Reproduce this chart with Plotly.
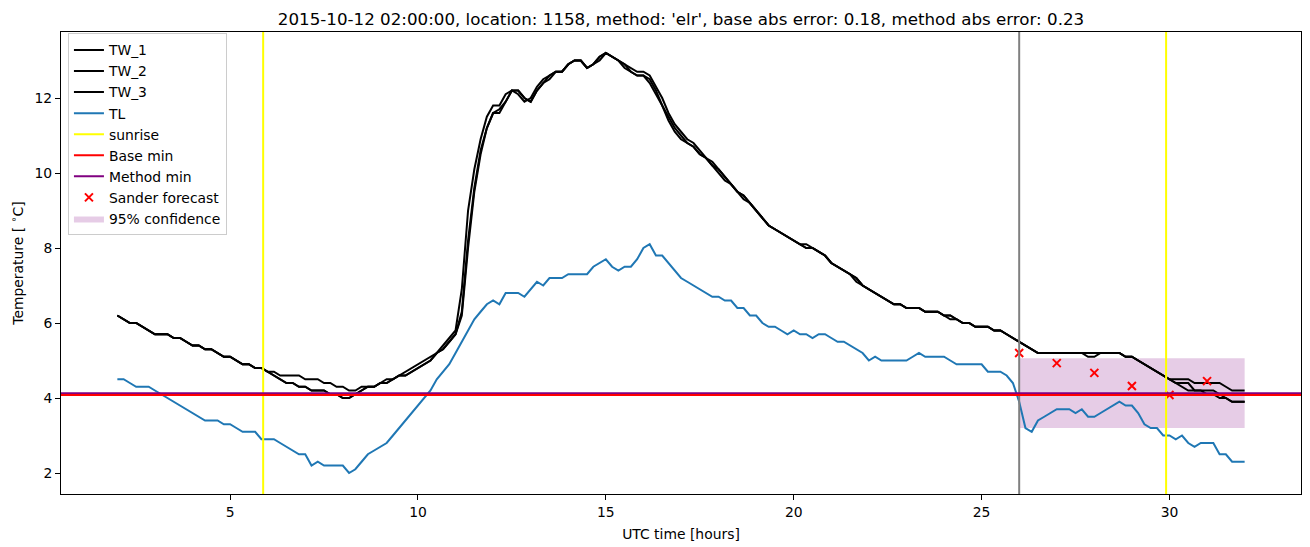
import numpy as np
import plotly.graph_objects as go

# time axis: 10-minute samples from 02:00 (hour 2) to hour 32
hours = np.round(2 + np.arange(181) / 6, 4)

TW_1 = [
    6.2, 6.1, 6.0, 6.0, 5.9, 5.8,
    5.7, 5.7, 5.7, 5.6, 5.6, 5.5,
    5.4, 5.4, 5.3, 5.3, 5.2, 5.1,
    5.1, 5.0, 4.9, 4.9, 4.8, 4.8,
    4.7, 4.7, 4.6, 4.6, 4.6, 4.6,
    4.5, 4.5, 4.5, 4.4, 4.4, 4.3,
    4.3, 4.2, 4.2, 4.3, 4.3, 4.3,
    4.4, 4.5, 4.5, 4.6, 4.7, 4.8,
    4.9, 5.0, 5.1, 5.2, 5.4, 5.6,
    5.8, 6.9, 9.0, 10.1, 10.9, 11.5,
    11.8, 11.8, 12.1, 12.2, 12.1, 11.9,
    12.0, 12.3, 12.5, 12.6, 12.7, 12.7,
    12.9, 13.0, 13.0, 12.8, 12.9, 13.1,
    13.2, 13.1, 13.0, 12.9, 12.8, 12.7,
    12.7, 12.6, 12.3, 12.0, 11.6, 11.3,
    11.1, 10.9, 10.8, 10.6, 10.4, 10.3,
    10.1, 9.9, 9.7, 9.5, 9.4, 9.2,
    9.0, 8.8, 8.6, 8.5, 8.4, 8.3,
    8.2, 8.1, 8.1, 8.0, 7.9, 7.8,
    7.6, 7.5, 7.4, 7.3, 7.2, 7.0,
    6.9, 6.8, 6.7, 6.6, 6.5, 6.5,
    6.4, 6.4, 6.4, 6.3, 6.3, 6.3,
    6.2, 6.2, 6.1, 6.0, 6.0, 5.9,
    5.9, 5.9, 5.8, 5.8, 5.7, 5.6,
    5.5, 5.4, 5.3, 5.2, 5.2, 5.2,
    5.2, 5.2, 5.2, 5.2, 5.2, 5.2,
    5.2, 5.2, 5.2, 5.2, 5.2, 5.1,
    5.1, 5.0, 4.9, 4.8, 4.7, 4.6,
    4.5, 4.5, 4.5, 4.5, 4.4, 4.4,
    4.4, 4.4, 4.4, 4.3, 4.2, 4.2,
    4.2,
]

TW_2 = [
    6.2, 6.1, 6.0, 6.0, 5.9, 5.8,
    5.7, 5.7, 5.7, 5.6, 5.6, 5.5,
    5.4, 5.4, 5.3, 5.3, 5.2, 5.1,
    5.1, 5.0, 4.9, 4.9, 4.8, 4.8,
    4.7, 4.6, 4.5, 4.4, 4.4, 4.3,
    4.3, 4.2, 4.2, 4.2, 4.1, 4.1,
    4.0, 4.0, 4.1, 4.2, 4.3, 4.3,
    4.4, 4.4, 4.5, 4.6, 4.6, 4.7,
    4.8, 4.9, 5.0, 5.2, 5.3, 5.5,
    5.7, 6.3, 8.2, 9.6, 10.6, 11.2,
    11.6, 11.6, 11.9, 12.2, 12.2, 12.0,
    11.9, 12.2, 12.4, 12.5, 12.7, 12.7,
    12.9, 13.0, 13.0, 12.8, 12.9, 13.0,
    13.2, 13.1, 13.0, 12.8, 12.7, 12.6,
    12.6, 12.4, 12.1, 11.8, 11.4, 11.1,
    10.9, 10.8, 10.7, 10.5, 10.4, 10.2,
    10.0, 9.8, 9.7, 9.5, 9.3, 9.2,
    9.0, 8.8, 8.6, 8.5, 8.4, 8.3,
    8.2, 8.1, 8.0, 8.0, 7.9, 7.8,
    7.6, 7.5, 7.4, 7.3, 7.1, 7.0,
    6.9, 6.8, 6.7, 6.6, 6.5, 6.5,
    6.4, 6.4, 6.4, 6.3, 6.3, 6.3,
    6.2, 6.1, 6.1, 6.0, 6.0, 5.9,
    5.9, 5.9, 5.8, 5.8, 5.7, 5.6,
    5.5, 5.4, 5.3, 5.2, 5.2, 5.2,
    5.2, 5.2, 5.2, 5.2, 5.2, 5.1,
    5.1, 5.2, 5.2, 5.2, 5.2, 5.1,
    5.1, 5.0, 4.9, 4.8, 4.7, 4.6,
    4.5, 4.4, 4.3, 4.2, 4.2, 4.2,
    4.1, 4.1, 4.0, 4.0, 3.9, 3.9,
    3.9,
]

TW_3 = [
    6.2, 6.1, 6.0, 6.0, 5.9, 5.8,
    5.7, 5.7, 5.7, 5.6, 5.6, 5.5,
    5.4, 5.4, 5.3, 5.3, 5.2, 5.1,
    5.1, 5.0, 4.9, 4.9, 4.8, 4.8,
    4.7, 4.6, 4.5, 4.4, 4.4, 4.3,
    4.3, 4.2, 4.2, 4.2, 4.1, 4.1,
    4.0, 4.0, 4.1, 4.2, 4.3, 4.3,
    4.4, 4.4, 4.5, 4.6, 4.6, 4.7,
    4.8, 4.9, 5.0, 5.2, 5.3, 5.5,
    5.7, 6.2, 8.0, 9.5, 10.5, 11.2,
    11.6, 11.7, 11.9, 12.2, 12.2, 12.0,
    11.9, 12.2, 12.4, 12.6, 12.7, 12.7,
    12.9, 13.0, 13.0, 12.8, 12.9, 13.1,
    13.2, 13.1, 13.0, 12.9, 12.7, 12.6,
    12.6, 12.5, 12.2, 11.8, 11.5, 11.2,
    11.0, 10.8, 10.7, 10.5, 10.4, 10.2,
    10.1, 9.9, 9.7, 9.5, 9.4, 9.2,
    9.0, 8.8, 8.6, 8.5, 8.4, 8.3,
    8.2, 8.1, 8.0, 8.0, 7.9, 7.8,
    7.6, 7.5, 7.4, 7.3, 7.2, 7.0,
    6.9, 6.8, 6.7, 6.6, 6.5, 6.5,
    6.4, 6.4, 6.4, 6.3, 6.3, 6.3,
    6.2, 6.2, 6.1, 6.0, 6.0, 5.9,
    5.9, 5.9, 5.8, 5.8, 5.7, 5.6,
    5.5, 5.4, 5.3, 5.2, 5.2, 5.2,
    5.2, 5.2, 5.2, 5.2, 5.2, 5.2,
    5.2, 5.2, 5.2, 5.2, 5.2, 5.1,
    5.1, 5.0, 4.9, 4.8, 4.7, 4.6,
    4.5, 4.4, 4.4, 4.4, 4.2, 4.2,
    4.2, 4.2, 4.1, 4.0, 3.9, 3.9,
    3.9,
]

TL = [
    4.5, 4.5, 4.4, 4.3, 4.3, 4.3,
    4.2, 4.1, 4.0, 3.9, 3.8, 3.7,
    3.6, 3.5, 3.4, 3.4, 3.4, 3.3,
    3.3, 3.2, 3.1, 3.1, 3.1, 2.9,
    2.9, 2.9, 2.8, 2.7, 2.6, 2.5,
    2.5, 2.2, 2.3, 2.2, 2.2, 2.2,
    2.2, 2.0, 2.1, 2.3, 2.5, 2.6,
    2.7, 2.8, 3.0, 3.2, 3.4, 3.6,
    3.8, 4.0, 4.2, 4.5, 4.7, 4.9,
    5.2, 5.5, 5.8, 6.1, 6.3, 6.5,
    6.6, 6.5, 6.8, 6.8, 6.8, 6.7,
    6.9, 7.1, 7.0, 7.2, 7.2, 7.2,
    7.3, 7.3, 7.3, 7.3, 7.5, 7.6,
    7.7, 7.5, 7.4, 7.5, 7.5, 7.7,
    8.0, 8.1, 7.8, 7.8, 7.6, 7.4,
    7.2, 7.1, 7.0, 6.9, 6.8, 6.7,
    6.7, 6.6, 6.6, 6.4, 6.4, 6.2,
    6.2, 6.0, 5.9, 5.9, 5.8, 5.7,
    5.8, 5.7, 5.7, 5.6, 5.7, 5.7,
    5.6, 5.5, 5.5, 5.4, 5.3, 5.2,
    5.0, 5.1, 5.0, 5.0, 5.0, 5.0,
    5.0, 5.1, 5.2, 5.1, 5.1, 5.1,
    5.1, 5.0, 4.9, 4.9, 4.9, 4.9,
    4.9, 4.7, 4.7, 4.7, 4.6, 4.4,
    3.9, 3.2, 3.1, 3.4, 3.5, 3.6,
    3.7, 3.7, 3.7, 3.6, 3.7, 3.5,
    3.5, 3.6, 3.7, 3.8, 3.9, 3.8,
    3.8, 3.6, 3.3, 3.2, 3.2, 3.0,
    3.0, 2.9, 3.0, 2.8, 2.7, 2.8,
    2.8, 2.8, 2.5, 2.5, 2.3, 2.3,
    2.3,
]

sunrise_hours = [5.88, 29.91]
forecast_start = 26.0
base_min = 4.08
method_min = 4.13
forecast_hours = [26, 27, 28, 29, 30, 31]
forecast_values = [5.2, 4.93, 4.67, 4.32, 4.08, 4.45]
conf_hours = [26, 32]
conf_low = [3.2, 3.2]
conf_high = [5.06, 5.06]

x_range = [0.5, 33.5]
y_range = [1.44, 13.76]

FONT = "DejaVu Sans"
fig = go.Figure()

# 95% confidence band
fig.add_trace(go.Scatter(
    x=conf_hours + conf_hours[::-1], y=conf_low + conf_high[::-1],
    fill="toself", fillcolor="rgba(128,0,128,0.2)", line=dict(width=0),
    mode="lines", name="95% confidence", legendrank=9, hoverinfo="skip"))

for name, ys, rank in [("TW_1", TW_1, 1), ("TW_2", TW_2, 2), ("TW_3", TW_3, 3)]:
    fig.add_trace(go.Scatter(x=hours, y=ys, mode="lines", name=name,
                             line=dict(color="black", width=2), legendrank=rank))
fig.add_trace(go.Scatter(x=hours, y=TL, mode="lines", name="TL",
                         line=dict(color="#1f77b4", width=2), legendrank=4))

fig.add_trace(go.Scatter(x=forecast_hours, y=forecast_values, mode="markers",
                         name="Sander forecast", legendrank=8,
                         marker=dict(symbol="x-thin", size=8, color="red",
                                     line=dict(color="red", width=2))))

shapes = []
for i, h in enumerate(sunrise_hours):
    shapes.append(dict(type="line", xref="x", yref="y domain", x0=h, x1=h, y0=0, y1=1,
                       line=dict(color="#ffff00", width=2), showlegend=(i == 0),
                       name="sunrise", legendrank=5))
shapes.append(dict(type="line", xref="x", yref="y domain", x0=forecast_start, x1=forecast_start,
                   y0=0, y1=1, line=dict(color="gray", width=2)))
shapes.append(dict(type="line", xref="x domain", yref="y", x0=0, x1=1, y0=method_min, y1=method_min,
                   line=dict(color="purple", width=2), showlegend=True, name="Method min",
                   legendrank=7))
shapes.append(dict(type="line", xref="x domain", yref="y", x0=0, x1=1, y0=base_min, y1=base_min,
                   line=dict(color="red", width=2), showlegend=True, name="Base min",
                   legendrank=6))

fig.update_layout(
    width=1310, height=547,
    margin=dict(l=61, r=9, t=32, b=53),
    paper_bgcolor="white", plot_bgcolor="white",
    font=dict(family=FONT, size=13.9, color="black"),
    shapes=shapes,
    title=dict(text="2015-10-12 02:00:00, location: 1158, method: 'elr', base abs error: 0.18, method abs error: 0.23",
               x=0.5, xref="paper", xanchor="center", y=0.955, yref="container", yanchor="bottom",
               font=dict(size=16.7, family=FONT)),
    legend=dict(x=0.0056, y=0.997, xanchor="left", yanchor="top", bgcolor="white",
                bordercolor="#cccccc", borderwidth=1, font=dict(size=13.9, family=FONT),
                traceorder="normal"),
    showlegend=True,
)
fig.update_xaxes(range=x_range, tickvals=[5, 10, 15, 20, 25, 30], ticks="outside", ticklen=5,
                 tickwidth=1, tickcolor="black", showline=True, mirror=True, linecolor="black",
                 linewidth=1, showgrid=False, zeroline=False, tickfont=dict(size=13.9),
                 title=dict(text="UTC time [hours]", standoff=10, font=dict(size=13.9, family=FONT)))
fig.update_yaxes(range=y_range, tickvals=[2, 4, 6, 8, 10, 12], ticks="outside", ticklen=5,
                 tickwidth=1, tickcolor="black", showline=True, mirror=True, linecolor="black",
                 linewidth=1, showgrid=False, zeroline=False, tickfont=dict(size=13.9),
                 title=dict(text="Temperature [ <sup>∘</sup>C]", standoff=7, font=dict(size=13.9, family=FONT)))

fig.write_html("out.html")
